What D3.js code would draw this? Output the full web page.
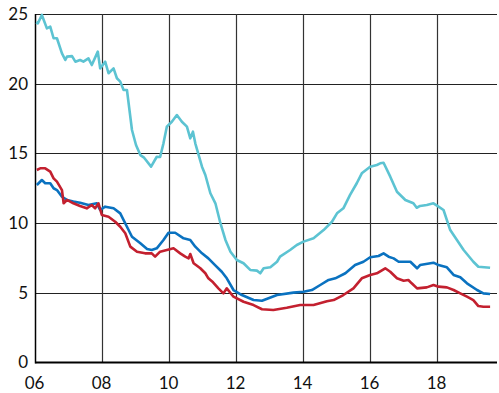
<!DOCTYPE html>
<html><head><meta charset="utf-8">
<script src="https://cdn.jsdelivr.net/npm/d3@7"></script>
<style>body{margin:0;background:#fff}svg{display:block}</style>
</head><body><svg id="c" width="499" height="393"></svg>
<script>
const yTicks = [0, 5, 10, 15, 20, 25];
const xTicks = [2006, 2008, 2010, 2012, 2014, 2016, 2018];
const xTickLabels = ["06", "08", "10", "12", "14", "16", "18"];

const cyanDates = [2006.02,2006.07,2006.19,2006.34,2006.44,2006.54,2006.64,2006.79,2006.89,2006.94,2007.09,2007.19,2007.33,2007.43,2007.58,2007.68,2007.86,2007.93,2008.08,2008.18,2008.33,2008.43,2008.53,2008.63,2008.73,2008.88,2009.0,2009.13,2009.23,2009.45,2009.62,2009.72,2009.82,2009.92,2010.07,2010.22,2010.37,2010.52,2010.62,2010.70,2010.77,2010.97,2011.07,2011.22,2011.37,2011.52,2011.67,2011.82,2012.01,2012.21,2012.41,2012.61,2012.71,2012.81,2013.01,2013.21,2013.30,2013.60,2013.80,2014.00,2014.30,2014.60,2014.85,2015.00,2015.19,2015.39,2015.59,2015.74,2015.99,2016.19,2016.29,2016.39,2016.59,2016.79,2017.04,2017.28,2017.38,2017.48,2017.68,2017.88,2018.03,2018.18,2018.38,2018.58,2018.78,2019.07,2019.22,2019.57];
const cyanValues = [24.4,24.33,24.93,23.97,24.09,23.26,23.26,22.18,21.7,21.94,21.98,21.58,21.7,21.58,21.82,21.34,22.3,21.1,21.58,20.75,21.1,20.39,20.15,19.55,19.55,16.68,15.6,14.88,14.72,14.05,14.76,14.74,15.72,16.92,17.27,17.75,17.27,16.92,16.08,16.56,15.72,14.05,13.45,12.14,11.42,9.99,8.79,7.95,7.35,7.12,6.64,6.59,6.4,6.76,6.83,7.23,7.59,8.07,8.43,8.67,8.91,9.5,10.1,10.7,11.06,12.02,12.86,13.57,14.05,14.17,14.29,14.33,13.33,12.25,11.66,11.42,11.1,11.23,11.3,11.42,11.18,10.94,9.5,8.79,8.07,7.23,6.87,6.8];

const blueDates = [2006.04,2006.19,2006.29,2006.44,2006.54,2006.64,2006.79,2006.94,2007.13,2007.33,2007.58,2007.83,2007.93,2008.08,2008.33,2008.53,2008.73,2008.88,2009.13,2009.33,2009.47,2009.62,2009.82,2009.97,2010.17,2010.42,2010.62,2010.77,2010.97,2011.16,2011.36,2011.56,2011.71,2011.91,2012.16,2012.51,2012.76,2013.21,2013.70,2014.00,2014.25,2014.50,2014.75,2014.95,2015.25,2015.54,2015.79,2015.99,2016.24,2016.39,2016.54,2016.69,2016.84,2017.19,2017.39,2017.48,2017.88,2018.03,2018.28,2018.48,2018.68,2018.88,2019.18,2019.37,2019.57];
const blueValues = [12.73,13.09,12.86,12.86,12.5,12.37,11.89,11.66,11.54,11.46,11.3,11.42,10.94,11.18,11.06,10.7,9.74,9.02,8.55,8.14,8.07,8.19,8.79,9.31,9.31,8.91,8.79,8.31,7.83,7.47,6.99,6.51,6.04,5.2,4.84,4.48,4.43,4.84,5.01,5.08,5.2,5.56,5.92,6.04,6.4,6.99,7.23,7.55,7.64,7.83,7.59,7.47,7.23,7.23,6.76,6.99,7.16,6.99,6.83,6.28,6.11,5.68,5.2,4.96,4.91];

const redDates = [2006.04,2006.14,2006.29,2006.44,2006.54,2006.64,2006.79,2006.84,2006.94,2007.13,2007.33,2007.53,2007.68,2007.78,2007.88,2007.98,2008.18,2008.38,2008.53,2008.68,2008.83,2009.03,2009.27,2009.47,2009.57,2009.72,2009.92,2010.12,2010.32,2010.47,2010.57,2010.62,2010.72,2010.92,2011.07,2011.16,2011.30,2011.46,2011.61,2011.71,2011.91,2012.21,2012.51,2012.76,2013.10,2013.50,2013.90,2014.30,2014.70,2014.90,2015.19,2015.49,2015.74,2015.99,2016.19,2016.44,2016.59,2016.79,2016.99,2017.13,2017.23,2017.39,2017.68,2017.88,2018.03,2018.28,2018.48,2018.68,2018.88,2019.07,2019.22,2019.37,2019.57];
const redValues = [13.81,13.93,13.93,13.69,13.21,12.97,12.37,11.42,11.66,11.42,11.23,11.06,11.3,11.06,11.42,10.58,10.46,10.1,9.74,9.27,8.31,7.95,7.83,7.83,7.59,7.95,8.07,8.19,7.83,7.59,7.47,7.78,7.12,6.76,6.4,6.04,5.75,5.32,4.96,5.32,4.72,4.36,4.12,3.82,3.77,3.93,4.12,4.12,4.4,4.48,4.84,5.32,6.04,6.28,6.4,6.76,6.51,6.04,5.87,5.92,5.68,5.32,5.39,5.56,5.44,5.39,5.2,4.96,4.72,4.48,4.05,4.0,4.0];

const seriesList = [
  {dates: cyanDates, values: cyanValues, color: "#5cc3d2"},
  {dates: blueDates, values: blueValues, color: "#0a72c0"},
  {dates: redDates, values: redValues, color: "#c3202f"}
];

const svg = d3.select("#c");
const mLeft = 35.5, mRight = 497, mTop = 14, mBottom = 362.5;
const x = d3.scaleLinear().domain([2006, 2006 + (mRight - mLeft) / 33.5]).range([mLeft, mRight]);
const y = d3.scaleLinear().domain([0, 25]).range([mBottom, mTop]);

// horizontal gridlines
svg.append("g").selectAll("line").data(yTicks.filter(d => d > 0)).join("line")
  .attr("x1", mLeft).attr("x2", mRight)
  .attr("y1", d => Math.round(y(d)) + 0.5).attr("y2", d => Math.round(y(d)) + 0.5)
  .attr("stroke", "#222").attr("stroke-width", 1.2);
// vertical gridlines
svg.append("g").selectAll("line").data(xTicks.slice(1)).join("line")
  .attr("x1", d => Math.round(x(d)) + 0.5).attr("x2", d => Math.round(x(d)) + 0.5)
  .attr("y1", mTop).attr("y2", mBottom)
  .attr("stroke", "#333").attr("stroke-width", 1.2);

// y axis line & baseline
svg.append("line").attr("x1", mLeft).attr("x2", mLeft).attr("y1", mTop).attr("y2", mBottom + 1)
  .attr("stroke", "#000").attr("stroke-width", 1.5);
svg.append("line").attr("x1", mLeft).attr("x2", mRight).attr("y1", mBottom).attr("y2", mBottom)
  .attr("stroke", "#000").attr("stroke-width", 2);

// lines
const line = d3.line().x(d => x(d[0])).y(d => y(d[1]));
seriesList.forEach(s => {
  svg.append("path").datum(s.dates.map((d, i) => [d, s.values[i]]))
    .attr("d", line).attr("fill", "none").attr("stroke", s.color)
    .attr("stroke-width", 2.6).attr("stroke-linejoin", "round");
});

// tick labels
const font = "Lato, 'Open Sans', sans-serif";
svg.append("g").selectAll("text").data(yTicks).join("text")
  .attr("x", 28).attr("y", d => y(d)).attr("dy", "0.35em")
  .attr("text-anchor", "end").attr("font-family", font).attr("font-size", 17).attr("fill", "#111")
  .text(d => d);
svg.append("g").selectAll("text").data(xTicks).join("text")
  .attr("x", d => x(d) - 1).attr("y", 388.5)
  .attr("text-anchor", "middle").attr("font-family", font).attr("font-size", 17).attr("fill", "#111")
  .text((d, i) => xTickLabels[i]);
</script></body></html>
